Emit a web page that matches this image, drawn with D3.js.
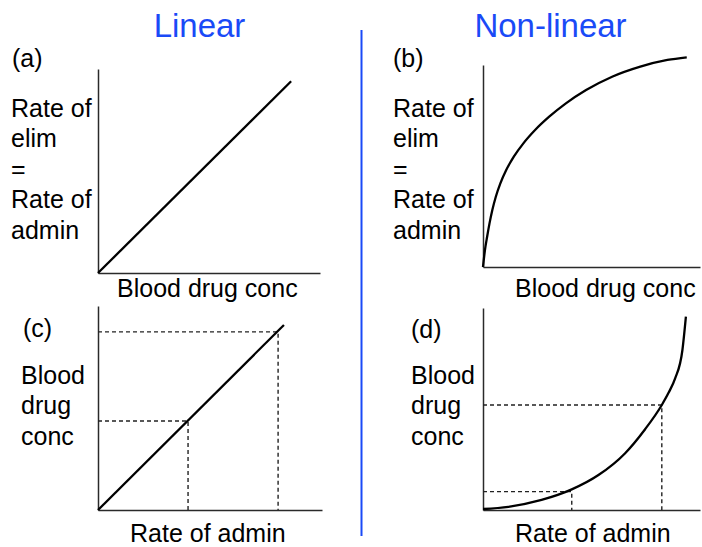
<!DOCTYPE html>
<html>
<head>
<meta charset="utf-8">
<script src="https://cdn.jsdelivr.net/npm/d3@7/dist/d3.min.js"></script>
<style>
  html, body { margin: 0; padding: 0; background: #fff; }
  svg text { font-family: "Liberation Sans", Arial, sans-serif; fill: #000; }
</style>
</head>
<body>
<svg id="chart" width="702" height="547"></svg>
<script>
// Column headings
const columnTitles = ["Linear", "Non-linear"];
const panelLetters = ["(a)", "(b)", "(c)", "(d)"];

// Axis captions
const yLabelsTop = ["Rate of", "elim", "=", "Rate of", "admin"];
const yLabelsBottom = ["Blood", "drug", "conc"];
const xLabelTop = "Blood drug conc";
const xLabelBottom = "Rate of admin";

// (a) rate of elimination vs blood drug concentration, first-order
const linearElim = [[0, 0], [8.7, 9.4]];

// (b) rate of elimination vs blood drug concentration, saturable
const saturableElim = [
  [0, 0], [0.09, 0.84], [0.19, 1.5], [0.3, 2.16], [0.43, 2.82], [0.59, 3.48],
  [0.8, 4.14], [1.07, 4.8], [1.42, 5.46], [1.86, 6.12], [2.4, 6.78], [3.05, 7.44],
  [3.82, 8.1], [4.75, 8.76], [5.95, 9.42], [7.25, 9.92], [8.5, 10.25], [9.39, 10.38]
];

// (c) steady-state concentration vs rate of administration, proportional
const linearConc = [[0, 0], [8.3, 9.07]];
const linearMarks = [[4.02, 4.36], [8.04, 8.73]];

// (d) steady-state concentration vs rate of administration, disproportionate
const saturableConc = [
  [0, 0.05], [1.17, 0.16], [2.7, 0.5], [4.09, 1.02], [5.32, 1.73], [6.54, 2.8],
  [7.47, 4.0], [8.24, 5.2], [8.55, 5.8], [8.85, 6.5], [9.19, 7.92], [9.35, 9.57]
];
const saturableMarks = [[4.09, 0.91], [8.24, 5.2]];

const svg = d3.select("#chart");
const blue = "#1a4af7";
const fontSize = 25;

// Column headings and divider
svg.selectAll("text.title")
  .data(columnTitles)
  .join("text")
  .attr("class", "title")
  .attr("x", (d, i) => [199.5, 550.5][i])
  .attr("y", 37)
  .attr("text-anchor", "middle")
  .style("font-size", "33px")
  .style("fill", blue)
  .text(d => d);

svg.append("line")
  .attr("x1", 361.5).attr("x2", 361.5)
  .attr("y1", 30).attr("y2", 536)
  .attr("stroke", blue)
  .attr("stroke-width", 2);

const panels = [
  { letter: panelLetters[0], x: [98, 320], y: [273, 69], letterPos: [12, 67],
    ylabels: yLabelsTop, ylx: 11, yly: 117, xlabel: xLabelTop, xlx: 117, xly: 297,
    curve: linearElim, smooth: false, marks: [] },
  { letter: panelLetters[1], x: [483, 700], y: [267, 65], letterPos: [393, 67],
    ylabels: yLabelsTop, ylx: 393, yly: 117, xlabel: xLabelTop, xlx: 515, xly: 297,
    curve: saturableElim, smooth: true, marks: [] },
  { letter: panelLetters[2], x: [98, 322], y: [510, 306], letterPos: [23, 337],
    ylabels: yLabelsBottom, ylx: 21, yly: 384, xlabel: xLabelBottom, xlx: 130, xly: 542,
    curve: linearConc, smooth: false, marks: linearMarks },
  { letter: panelLetters[3], x: [483, 700], y: [510, 308], letterPos: [411, 338],
    ylabels: yLabelsBottom, ylx: 411, yly: 384, xlabel: xLabelBottom, xlx: 515, xly: 542,
    curve: saturableConc, smooth: true, marks: saturableMarks }
];

panels.forEach(p => {
  const g = svg.append("g");
  const x = d3.scaleLinear().domain([0, 10]).range(p.x);
  const y = d3.scaleLinear().domain([0, 10]).range(p.y);

  // Bare axes: domain line only, no ticks
  g.append("g")
    .attr("transform", `translate(0,${p.y[0]})`)
    .call(d3.axisBottom(x).tickValues([]).tickSizeOuter(0))
    .call(a => a.select(".domain").attr("stroke", "#2a2a2a").attr("stroke-width", 1.5));
  g.append("g")
    .attr("transform", `translate(${p.x[0]},0)`)
    .call(d3.axisLeft(y).tickValues([]).tickSizeOuter(0))
    .call(a => a.select(".domain").attr("stroke", "#2a2a2a").attr("stroke-width", 1.5));

  // Dashed drop lines to both axes
  p.marks.forEach(m => {
    g.append("path")
      .attr("d", `M${x(0)},${y(m[1])}H${x(m[0])}V${y(0)}`)
      .attr("fill", "none")
      .attr("stroke", "#222")
      .attr("stroke-width", 1.4)
      .attr("stroke-dasharray", "4,3");
  });

  const line = d3.line()
    .x(d => x(d[0]))
    .y(d => y(d[1]))
    .curve(p.smooth ? d3.curveMonotoneX : d3.curveLinear);

  g.append("path")
    .datum(p.curve)
    .attr("d", line)
    .attr("fill", "none")
    .attr("stroke", "#000")
    .attr("stroke-width", 2.3);

  g.append("text")
    .attr("x", p.letterPos[0]).attr("y", p.letterPos[1])
    .style("font-size", fontSize + "px")
    .text(p.letter);

  g.selectAll("text.yl")
    .data(p.ylabels)
    .join("text")
    .attr("class", "yl")
    .attr("x", p.ylx)
    .attr("y", (d, i) => p.yly + i * 30.4)
    .style("font-size", fontSize + "px")
    .text(d => d);

  g.append("text")
    .attr("x", p.xlx).attr("y", p.xly)
    .style("font-size", fontSize + "px")
    .text(p.xlabel);
});
</script>
</body>
</html>
